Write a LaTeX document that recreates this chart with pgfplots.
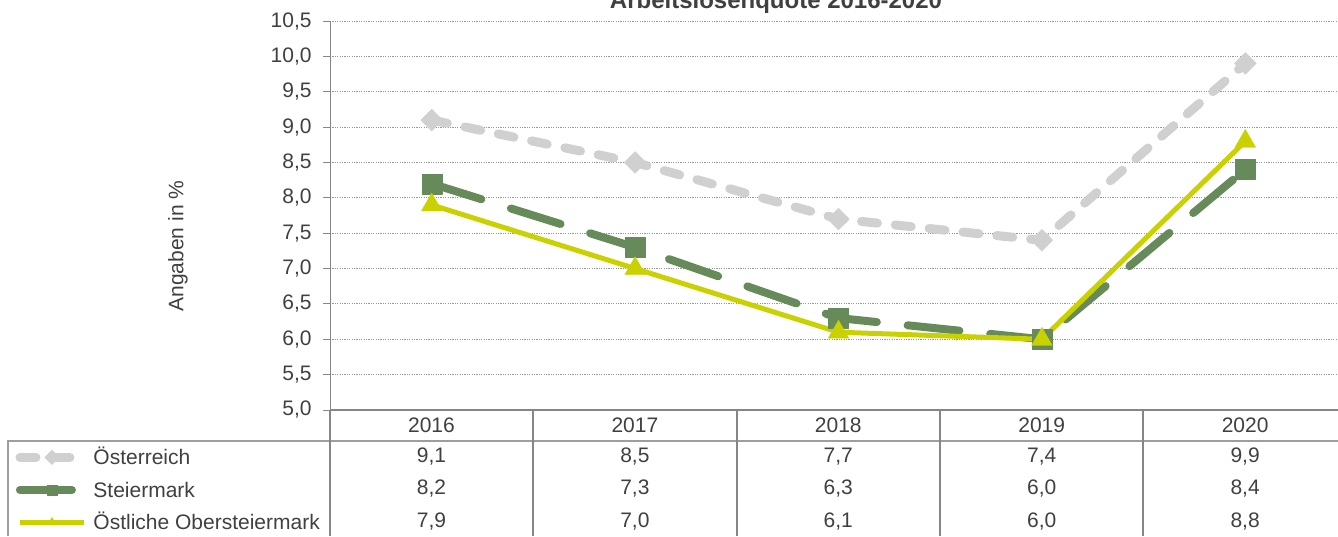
\documentclass[border=0pt]{standalone}
\usepackage{pgfplots}
\usepackage{pgfplotstable}
\pgfplotsset{compat=1.18}
\usepackage{fontspec}
\setmainfont{Liberation Sans}
\definecolor{oegray}{HTML}{D0D0D0}
\definecolor{stgreen}{HTML}{668A5A}
\definecolor{oyellow}{HTML}{C9D200}
\definecolor{txt}{HTML}{404040}
\definecolor{axgray}{HTML}{868686}

\pgfplotstableread{
x oe st ob
0 9.1 8.2 7.9
1 8.5 7.3 7.0
2 7.7 6.3 6.1
3 7.4 6.0 6.0
4 9.9 8.4 8.8
}\datatable

\begin{document}
\begin{tikzpicture}[font=\fontsize{10.5}{12.6}\selectfont, text=txt]
\path[use as bounding box] (0,0) rectangle (669pt,-268pt);
\begin{axis}[
  at={(165pt,-205pt)}, anchor=south west,
  width=508.5pt, height=194.5pt, scale only axis,
  xmin=-0.5, xmax=4.5, ymin=5, ymax=10.5,
  axis x line=none, axis y line*=left,
  axis line style={axgray, line width=0.5pt},
  xtick=\empty,
  ytick={5,5.5,6,6.5,7,7.5,8,8.5,9,9.5,10,10.5},
  tick align=outside, major tick length=3.5pt,
  tick style={axgray, line width=0.5pt},
  ymajorgrids,
  major grid style={axgray!85, line width=0.5pt, dash pattern=on 0.6pt off 0.6pt},
  yticklabel style={text=txt, inner sep=0pt, xshift=-5.5pt},
  /pgf/number format/.cd, fixed, fixed zerofill, precision=1, use comma, assume math mode=true,
  /pgfplots/.cd,
  ylabel={Angaben in \%},
  ylabel style={at={(axis description cs:-0.1495,0.4216)}, anchor=center, text=txt},
  clip=false,
  legend cell align=left,
  legend image code/.code={\draw[#1, mark repeat=2, mark phase=2, mark size=2.6pt] plot coordinates {(0pt,0pt) (16pt,0pt) (32pt,0pt)};},
  legend style={at={(axis description cs:-0.3097,-0.1015)}, anchor=north west, draw=none, fill=none,
    inner sep=0pt, column sep=2.5pt, row sep=8.75pt,
    nodes={inner sep=0pt, text height=7.5pt, text depth=0pt, text=txt}},
]
\addplot[oegray, line width=4.5pt, line cap=round, line join=round, dash pattern=on 8pt off 9pt,
  mark=square*, mark size=3.9pt, mark options={solid, rotate=45, fill=oegray, draw=oegray, line width=0.1pt}]
  table[x=x, y=oe] {\datatable};
\addlegendentry{Österreich}
\addplot[stgreen, line width=4pt, line cap=round, line join=round, dash pattern=on 26pt off 15.5pt,
  mark=square*, mark size=5pt, mark options={solid, fill=stgreen, draw=stgreen, line width=0.1pt}]
  table[x=x, y=st] {\datatable};
\addlegendentry{Steiermark}
\addplot[oyellow, line width=2.5pt, line join=round,
  mark=triangle*, mark size=6pt, mark options={solid, fill=oyellow, draw=oyellow, line width=0.1pt}]
  table[x=x, y=ob] {\datatable};
\addlegendentry{Östliche Obersteiermark}
\end{axis}
\begin{scope}[x=0.5pt, y=-0.5pt]
  \node[anchor=base, font=\bfseries\fontsize{12}{14}\selectfont] at (776,8) {Arbeitslosenquote 2016-2020};
  \draw[axgray!80, line width=0.6pt] (8,536) -- (8,441) -- (1347,441);
  \foreach \cx in {330,533,737,940,1143} {
    \draw[axgray, line width=0.6pt] (\cx,410) -- (\cx,536);
  }
  \draw[axgray, line width=1.3pt] (330,410) -- (1347,410);
  \foreach \i in {0,...,4} {
    \pgfmathsetmacro\cx{431.5+203.4*\i}
    \pgfmathtruncatemacro\yr{2016+\i}
    \node at (\cx,425) {\yr};
    \pgfplotstablegetelem{\i}{oe}\of\datatable \let\va\pgfplotsretval
    \node at (\cx,457) {\pgfmathprintnumber[fixed,fixed zerofill,precision=1,use comma,assume math mode=true]{\va}};
    \pgfplotstablegetelem{\i}{st}\of\datatable \let\vb\pgfplotsretval
    \node at (\cx,489) {\pgfmathprintnumber[fixed,fixed zerofill,precision=1,use comma,assume math mode=true]{\vb}};
    \pgfplotstablegetelem{\i}{ob}\of\datatable \let\vc\pgfplotsretval
    \node at (\cx,522) {\pgfmathprintnumber[fixed,fixed zerofill,precision=1,use comma,assume math mode=true]{\vc}};
  }
\end{scope}
\end{tikzpicture}
\end{document}
